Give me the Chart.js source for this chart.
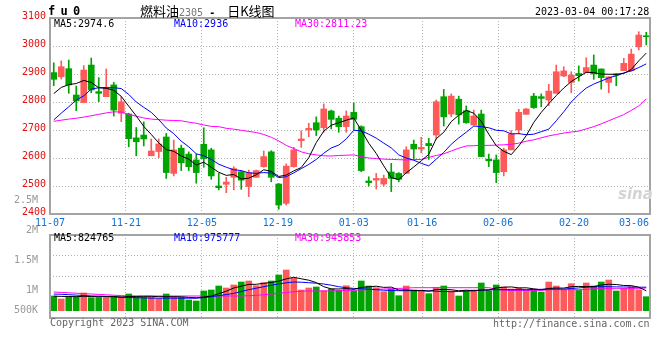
<!DOCTYPE html>
<html>
<head>
<meta charset="utf-8">
<script src="https://cdn.jsdelivr.net/npm/chart.js"></script>
<style>
body{margin:0;background:#fff}
#wrap{position:relative;width:660px;height:360px;overflow:hidden;background:#fff}
canvas{position:absolute;left:0}
.t{position:absolute;white-space:pre;font:10px/12px 'DejaVu Sans Mono',monospace;color:#000}
</style>
</head>
<body>
<div id="wrap">
<canvas id="price" width="660" height="232" style="top:0"></canvas>
<canvas id="vol" width="660" height="140" style="top:190px"></canvas>
<div class="t" style="left:618px;top:186px;font:bold italic 15px/16px 'DejaVu Sans',sans-serif;color:#d4d4d4">sina</div>
<div class="t" style="left:48px;top:5px;font:bold 12px/13px 'DejaVu Sans Mono',monospace;letter-spacing:-1px">f u 0</div>
<div class="t" style="left:140px;top:3px;font:13px/16px 'Noto Sans CJK SC',sans-serif">燃料油<span style="font:10px 'DejaVu Sans Mono',monospace;color:#777">2305</span><span style="font:bold 10px 'DejaVu Sans Mono',monospace"> -  </span>日K线图</div>
<div class="t" style="left:535px;top:6px">2023-03-04 00:17:28</div>
<div class="t" style="left:54px;top:18px">MA5:2974.6</div>
<div class="t" style="left:174px;top:18px;color:#0000ff">MA10:2936</div>
<div class="t" style="left:295px;top:18px;color:#ff00ff">MA30:2811.23</div>
<div class="t" style="left:54px;top:232px">MA5:824765</div>
<div class="t" style="left:174px;top:232px;color:#0000ff">MA10:975777</div>
<div class="t" style="left:295px;top:232px;color:#ff00ff">MA30:945853</div>
<div class="t" style="left:50px;top:317px;color:#666">Copyright 2023 SINA.COM</div>
<div class="t" style="left:493px;top:318px;color:#666">http://finance.sina.com.cn</div>
</div>
<script>
// trading days shown (MM-DD)
const dates = [
  '11-07','11-08','11-09','11-10','11-11','11-14','11-15','11-16','11-17','11-18',
  '11-21','11-22','11-23','11-24','11-25','11-28','11-29','11-30','12-01','12-02',
  '12-05','12-06','12-07','12-08','12-09','12-12','12-13','12-14','12-15','12-16',
  '12-19','12-20','12-21','12-22','12-23','12-26','12-27','12-28','12-29','12-30',
  '01-03','01-04','01-05','01-06','01-09','01-10','01-11','01-12','01-13','01-16',
  '01-17','01-18','01-19','01-20','01-30','01-31','02-01','02-02','02-03','02-06',
  '02-07','02-08','02-09','02-10','02-13','02-14','02-15','02-16','02-17','02-20',
  '02-21','02-22','02-23','02-24','02-27','02-28','03-01','03-02','03-03','03-06'
];

const open = [2905,2890,2919,2825,2798,2932,2837,2819,2861,2760,
  2757,2672,2682,2608,2623,2675,2545,2635,2614,2593,
  2649,2629,2500,2506,2531,2551,2498,2531,2569,2622,
  2507,2438,2569,2662,2700,2726,2708,2768,2742,2712,
  2763,2712,2518,2521,2507,2550,2545,2545,2649,2632,
  2652,2682,2819,2757,2810,2769,2718,2757,2596,2593,
  2551,2629,2700,2756,2821,2819,2807,2831,2893,2870,
  2902,2905,2932,2918,2870,2900,2912,2912,2997,3036];
const high = [2940,2947,2950,2857,2930,2957,2887,2918,2870,2819,
  2760,2709,2729,2668,2668,2688,2664,2646,2622,2614,
  2708,2635,2545,2531,2569,2555,2557,2557,2625,2626,
  2509,2579,2638,2697,2724,2747,2793,2771,2750,2768,
  2797,2715,2533,2545,2539,2581,2548,2640,2664,2674,
  2670,2807,2845,2829,2821,2786,2771,2771,2614,2611,
  2635,2698,2774,2777,2831,2829,2863,2932,2926,2908,
  2929,2958,2968,2918,2890,2902,2956,2989,3051,3049];
const low = [2858,2882,2831,2769,2797,2833,2801,2819,2750,2730,
  2640,2608,2643,2608,2601,2527,2536,2555,2555,2510,
  2567,2524,2486,2476,2486,2488,2462,2531,2567,2515,
  2417,2432,2567,2638,2676,2680,2692,2704,2692,2692,
  2700,2551,2500,2489,2500,2480,2515,2545,2595,2619,
  2595,2667,2714,2747,2721,2724,2718,2605,2569,2512,
  2536,2629,2686,2756,2777,2783,2787,2831,2890,2833,
  2875,2905,2881,2846,2833,2858,2912,2910,2986,3004];
const close = [2881,2926,2861,2804,2914,2843,2831,2852,2771,2801,
  2669,2658,2668,2625,2650,2548,2629,2583,2569,2548,
  2598,2536,2494,2514,2562,2521,2548,2555,2605,2531,
  2432,2571,2629,2668,2706,2700,2775,2738,2712,2750,
  2738,2555,2512,2527,2527,2527,2524,2629,2632,2638,
  2644,2801,2747,2821,2754,2726,2750,2605,2590,2548,
  2629,2686,2763,2775,2780,2813,2839,2908,2911,2896,
  2894,2923,2900,2887,2890,2896,2938,2971,3039,3033];

const ma5 = [2830,2852,2862,2866,2877,2870,2851,2849,2842,2820,
  2785,2750,2713,2684,2654,2630,2624,2607,2596,2575,
  2585,2567,2549,2538,2541,2525,2528,2540,2558,2552,
  2534,2539,2554,2566,2601,2655,2696,2717,2726,2735,
  2743,2699,2653,2616,2572,2530,2523,2547,2568,2590,
  2613,2669,2692,2730,2753,2770,2760,2731,2685,2644,
  2624,2612,2643,2680,2727,2763,2794,2823,2850,2873,
  2890,2906,2905,2900,2899,2899,2902,2916,2947,2974.6];
const ma10 = [2736,2760,2783,2807,2822,2846,2851,2851,2851,2848,
  2827,2800,2781,2763,2737,2707,2687,2660,2640,2615,
  2608,2595,2578,2567,2558,2555,2547,2545,2548,2546,
  2530,2533,2547,2562,2577,2595,2617,2636,2646,2668,
  2699,2697,2685,2671,2653,2636,2611,2600,2592,2581,
  2572,2596,2620,2649,2672,2692,2714,2712,2708,2699,
  2697,2686,2687,2683,2685,2694,2703,2733,2765,2800,
  2827,2850,2864,2875,2886,2894,2904,2911,2923,2936];
const ma30 = [2731,2735,2739,2742,2746,2751,2756,2761,2765,2764,
  2756,2749,2743,2739,2737,2735,2734,2733,2728,2724,
  2718,2713,2712,2706,2703,2699,2695,2691,2684,2674,
  2661,2645,2634,2622,2615,2611,2608,2607,2609,2610,
  2611,2605,2600,2598,2596,2595,2594,2593,2594,2595,
  2602,2609,2615,2625,2635,2643,2644,2645,2645,2646,
  2647,2649,2653,2660,2665,2672,2679,2684,2689,2693,
  2696,2704,2712,2722,2733,2744,2755,2770,2786,2811.23];

// volume in thousands of lots
const volK = [610,486,581,581,735,540,552,552,581,581,
  693,569,569,569,498,693,581,552,444,403,
  818,859,1025,942,1067,1191,1233,1038,1162,1233,
  1482,1689,1357,859,942,984,830,901,842,1038,
  830,1233,1025,955,789,901,623,1025,859,842,
  706,967,1025,818,610,830,859,1150,830,1067,
  984,901,942,859,859,776,1191,1025,859,1121,
  842,1150,1025,1191,1274,818,925,996,859,581];
const volMa5 = [602,593,589,581,598,585,598,593,593,560,
  593,593,598,598,581,581,581,577,552,535,
  569,606,706,809,942,1017,1091,1096,1137,1170,
  1228,1320,1386,1324,1266,1166,996,905,901,917,
  888,967,992,1017,967,979,859,859,838,842,
  809,880,880,872,826,851,830,855,855,946,
  975,988,946,950,909,867,925,942,938,996,
  1008,1000,1000,1067,1096,1087,1046,1042,975,824.765];
const volMa10 = [693,681,664,647,631,614,598,585,573,560,
  548,540,531,523,519,519,519,519,519,519,
  540,581,623,672,718,797,872,934,996,1058,
  1112,1158,1191,1183,1162,1141,1108,1058,996,955,
  925,913,892,872,851,838,830,830,830,830,
  822,809,797,789,797,813,830,851,872,872,
  872,872,872,872,880,888,896,901,901,921,
  946,971,996,996,996,988,984,979,975,975.777];
const volMa30 = [776,759,743,726,710,693,676,660,643,627,
  610,610,610,610,610,610,610,610,610,610,
  610,610,610,610,610,610,623,635,664,693,
  718,755,789,809,818,818,818,818,830,842,
  851,863,876,888,901,913,925,938,955,955,
  955,955,955,955,955,955,955,955,955,892,
  851,842,842,842,842,842,872,872,872,872,
  872,884,913,913,913,913,913,913,913,945.853];

// axis ticks
const tickPos = [0,10,20,30,40,49,59,69,76.9];
const tickLabels = ['11-07','11-21','12-05','12-19','01-03','01-16','02-06','02-20','03-06'];
const priceTicks = [2400,2500,2600,2700,2800,2900,3000,3100];
const volTickVals = [0,830,2075,3320,4565];
const volTickLabels = ['500K','1M','1.5M','2M','2.5M'];

const UP = '#ff5a5a', DOWN = '#00a400', GRID = '#b4b4b4';
const candleColors = close.map((c, i) => c >= open[i] ? UP : DOWN);

Chart.defaults.font.family = "'DejaVu Sans Mono', monospace";
Chart.defaults.font.size = 10;

const frame = {
  id: 'frame',
  afterDatasetsDraw(chart) {
    const {ctx, chartArea: a} = chart;
    ctx.save();
    ctx.strokeStyle = '#a4a4a4';
    ctx.lineWidth = 2;
    ctx.strokeRect(a.left, a.top, a.right - a.left, a.bottom - a.top);
    ctx.restore();
  }
};

function maLine(data, color) {
  return {type: 'line', data: data, borderColor: color, borderWidth: 1, pointRadius: 0,
    tension: 0, xAxisID: 'x', yAxisID: 'y', order: 1};
}

function dateAxis(showLabels, h) {
  return {
    type: 'linear', position: 'bottom', min: 0, max: 79, offset: false,
    afterBuildTicks: s => { s.ticks = tickPos.map(v => ({value: v})); },
    afterFit: s => { s.height = h; s.paddingLeft = 0; s.paddingRight = 0; },
    grid: {
      offset: false,
      color: ctx => (ctx.index === 0 || ctx.index === tickPos.length - 1) ? 'transparent' : GRID,
      drawTicks: false
    },
    border: {display: false, dash: [1, 2]},
    ticks: {display: showLabels, autoSkip: false, maxRotation: 0, color: '#1570d0',
      padding: 3, callback: (v, i) => tickLabels[i]}
  };
}

// price panel
new Chart(document.getElementById('price'), {
  type: 'bar',
  data: {
    labels: dates,
    datasets: [
      maLine(ma5, '#000000'),
      maLine(ma10, '#0000ff'),
      maLine(ma30, '#ff00ff'),
      {data: open.map((o, i) => [o, close[i]]), backgroundColor: candleColors,
        barThickness: 6, minBarLength: 1, grouped: false, xAxisID: 'x', yAxisID: 'y', order: 4},
      {data: low.map((l, i) => [l, high[i]]), backgroundColor: candleColors,
        barThickness: 1, grouped: false, xAxisID: 'x', yAxisID: 'y', order: 5}
    ]
  },
  options: {
    responsive: false,
    animation: false,
    devicePixelRatio: 1,
    layout: {padding: {top: 18, right: 10, bottom: 0, left: 0}},
    plugins: {legend: {display: false}, tooltip: {enabled: false}},
    scales: {
      x: {type: 'category', display: false, offset: true},
      x2: dateAxis(true, 18),
      y: {
        min: 2400, max: 3100,
        afterBuildTicks: s => { s.ticks = priceTicks.map(v => ({value: v})); },
        afterFit: s => { s.width = 50; },
        grid: {color: ctx => (ctx.tick.value === 2400 || ctx.tick.value === 3100) ? 'transparent' : GRID,
          drawTicks: false},
        border: {display: false, dash: [1, 2]},
        ticks: {color: '#e01010', padding: 4, labelOffset: -2, autoSkip: false, callback: v => String(v)}
      }
    }
  },
  plugins: [frame]
});

// volume panel
new Chart(document.getElementById('vol'), {
  type: 'bar',
  data: {
    labels: dates,
    datasets: [
      maLine(volMa5, '#000000'),
      maLine(volMa10, '#0000ff'),
      maLine(volMa30, '#ff00ff'),
      {data: volK, backgroundColor: candleColors, barThickness: 6, xAxisID: 'x', yAxisID: 'y', order: 4}
    ]
  },
  options: {
    responsive: false,
    animation: false,
    devicePixelRatio: 1,
    layout: {padding: {top: 45, right: 10, bottom: 12, left: 0}},
    plugins: {legend: {display: false}, tooltip: {enabled: false}},
    scales: {
      x: {type: 'category', display: false, offset: true},
      x2: dateAxis(false, 0),
      y: {
        min: -303, max: 3142,
        afterBuildTicks: s => { s.ticks = volTickVals.map(v => ({value: v})); },
        afterFit: s => { s.width = 50; },
        grid: {display: false},
        border: {display: false},
        ticks: {color: '#999999', padding: 4, autoSkip: false, callback: (v, i) => volTickLabels[i]}
      },
      yg: {
        type: 'linear', position: 'left', min: 0, max: 4,
        afterBuildTicks: s => { s.ticks = [{value: 2}, {value: 3}]; },
        afterFit: s => { s.width = 0; },
        grid: {color: GRID, drawTicks: false},
        border: {display: false, dash: [1, 2]},
        ticks: {display: false}
      }
    }
  },
  plugins: [frame]
});
</script>
</body>
</html>
